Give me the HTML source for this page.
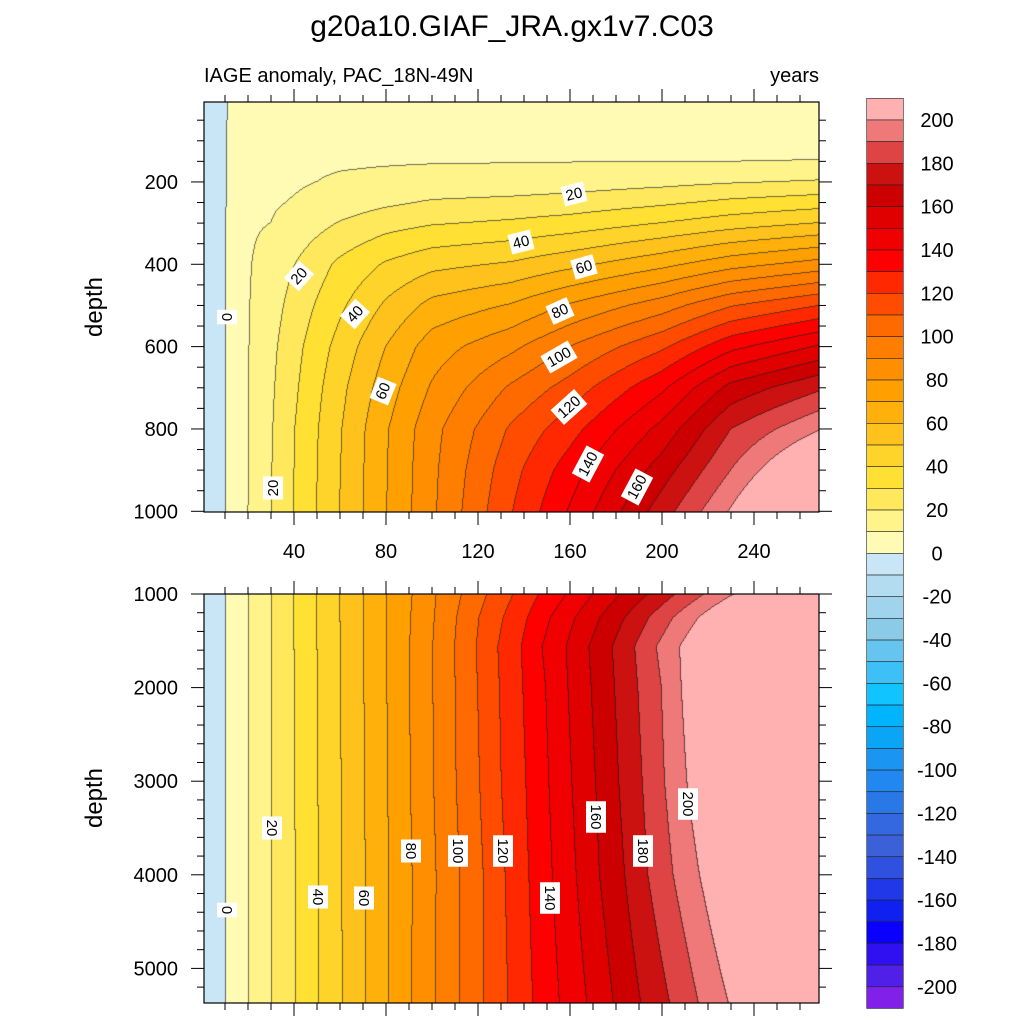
<!DOCTYPE html>
<html><head><meta charset="utf-8">
<style>
html,body{margin:0;padding:0;background:#fff;}
#wrap{position:relative;width:1024px;height:1024px;overflow:hidden;font-family:"Liberation Sans",sans-serif;}
canvas{position:absolute;}
svg{position:absolute;left:0;top:0;}
</style></head>
<body>
<div id="wrap">
<canvas id="cTop" width="615" height="410" style="left:204px;top:102px"></canvas>
<canvas id="cBot" width="615" height="409" style="left:204px;top:594px"></canvas>
<svg id="svg" width="1024" height="1024" xmlns="http://www.w3.org/2000/svg">
<text x="512" y="36" text-anchor="middle" font-size="30" font-family="Liberation Sans, sans-serif">g20a10.GIAF_JRA.gx1v7.C03</text>
<text x="204" y="82" font-size="20" font-family="Liberation Sans, sans-serif">IAGE anomaly, PAC_18N-49N</text>
<text x="819" y="82" text-anchor="end" font-size="20" font-family="Liberation Sans, sans-serif">years</text>
<text transform="translate(102,307) rotate(-90)" text-anchor="middle" font-size="24" font-family="Liberation Sans, sans-serif">depth</text>
<text transform="translate(102,798) rotate(-90)" text-anchor="middle" font-size="24" font-family="Liberation Sans, sans-serif">depth</text>
<g id="gTicks"></g>
<g id="gLabels"></g>
<g id="gBar"></g>
</svg>
</div>
<script>
// ---------- data ----------
const bandColors=["#8020e8","#5020e8","#3010f0","#0a00ff","#1020f0","#2038e8","#3050e0","#3c60d8","#3468e0","#2878e8","#2088f0","#1a96f2","#0aa6f5","#00b4ff","#10c4ff","#3cc0f5","#66c4f0","#8ccbe8","#a0d4ec","#b4dcf0","#c8e6f5",
"#fffab4","#fff48a","#ffe85c","#ffe033","#ffd42a","#ffc21c","#ffb00a","#ffa000","#ff8f00","#ff7e00","#ff6a00","#ff4c00","#ff2800","#ff0000","#f00000","#e00000","#cc0000","#cc1111","#de4444","#ef7878","#ffb0b0"];
const barLabels=[200,180,160,140,120,100,80,60,40,20,0,-20,-40,-60,-80,-100,-120,-140,-160,-180,-200];
const xMajor=[40,80,120,160,200,240];
const topYMajor=[200,400,600,800,1000];
const botYMajor=[1000,2000,3000,4000,5000];
// upper panel: age anomaly grid (rows = time columns, values at topDepths)
const topTimes=[0,10,20,30,40,60,80,100,134,160,200,230,268];
const topDepths=[6,100,150,200,250,300,400,500,600,700,800,900,1000];
const topAge=[
[-5,-5,-5,-5,-5,-5,-5,-5,-5,-5,-5,-5,-5],
[-0.6,-0.6,-0.6,-0.6,-0.6,-0.6,-0.6,-0.6,-0.6,-0.6,-0.6,-0.6,-0.6],
[4,6,7.5,8,8.5,9,9.2,9.4,9.5,9.6,9.7,9.7,9.8],
[4,6.5,8,8.5,9,10,13.6,15.5,17.3,18.3,19,19.4,19.7],
[4.5,7,8.5,9,10.5,13.5,19.7,23.5,26.4,28,29.5,29.8,30],
[5,7.5,9,11,14.5,20.5,32,38,43.5,47,49,49.6,50],
[5,7.5,9.3,12,18,26,41,51.5,60,65,68.8,69.3,69.5],
[5,7.5,9.5,13,21,29,47,63,75,81,86.5,87.5,88],
[5,7.5,9.6,13.9,22.4,31.4,51,70.6,87.3,101.2,111,116,119],
[5,7.5,9.7,15,24,34,57,81,100,114,126,135,141],
[5,7.5,9.8,17,28,40,67,95,118,138,153,165,175],
[5,7.5,9.9,19,32,45,76,109,137,163,180,190,201],
[5,7.5,10.2,20.8,35.3,50,83.6,119.6,150.7,178,199,220,238]];
// lower panel: time (years) at which each level 0..200 is reached, per depth
const botDepths=[1000,1250,1563,2000,3000,4000,5370];
const cross1000=[10.6,20.3,30.3,40,50,60,70.4,80.6,91.6,102,113,124,135.5,146.6,158.5,170,182,194,206,218.5,231.5];
const cross1250=[10.6,20.3,30.3,40.1,50.1,60.2,70.5,80.5,90.9,101.2,110.9,120.6,131.1,141.7,151.7,162.5,173.2,184,194.5,205,216];
const cross1563=[10.6,20.3,30.3,40.2,50.2,60.3,70.5,80.5,90.5,100.5,110,119.4,128.8,139,148,158.5,168.4,178.6,188.3,197.7,207.8];
const cross2000=[10.6,20.3,30.4,40.4,50.4,60.5,70.6,80.6,90.5,100.6,110.3,120,129.5,139.7,149.6,159.3,169.4,179.6,189.7,199.9,208.6];
const cross3000=[10.6,20.4,30.5,40.6,50.6,60.7,70.9,80.9,90.8,100.9,110.7,120.9,130.3,141,151,161,171.3,181.4,191.6,201.3,211];
const cross4000=[10.6,20.4,30.5,40.7,50.8,61,71.2,81.4,91.6,102,112.2,122.5,132,142.3,152.5,162.9,173,184,194,205,216.5];
const cross5370=[10.6,20.3,30.5,40.7,50.8,61.2,71.3,81.4,91.4,101.7,112.2,122.6,133.2,144,155.6,167.5,179,191,203.5,216,229];
const botCross=[cross1000,cross1250,cross1563,cross2000,cross3000,cross4000,cross5370];
const crossLevels=[0,10,20,30,40,50,60,70,80,90,100,110,120,130,140,150,160,170,180,190,200];

// ---------- scales ----------
const xOf=t=>202+2.3*t;
const tOf=x=>(x-202)/2.3;
const yTop=d=>99.6+0.4117*d;
const dTop=y=>(y-99.6)/0.4117;
const yBot=d=>594+(d-1000)*0.0936;
const dBot=y=>1000+(y-594)/0.0936;

function seg(arr,v){let i=0;while(i<arr.length-2&&v>arr[i+1])i++;return i;}
function topValue(t,d){
  if(d<topDepths[0])d=topDepths[0]; if(d>topDepths[topDepths.length-1])d=topDepths[topDepths.length-1];
  if(t<0)t=0; if(t>topTimes[topTimes.length-1])t=topTimes[topTimes.length-1];
  const i=seg(topTimes,t),j=seg(topDepths,d);
  const ft=(t-topTimes[i])/(topTimes[i+1]-topTimes[i]);
  const fd=(d-topDepths[j])/(topDepths[j+1]-topDepths[j]);
  const a=topAge[i][j],b=topAge[i][j+1],c=topAge[i+1][j],e=topAge[i+1][j+1];
  return (a*(1-fd)+b*fd)*(1-ft)+(c*(1-fd)+e*fd)*ft;
}
function rowValue(cr,t){
  const n=cr.length;
  if(t<=cr[0])return -5+5*t/cr[0];
  if(t>=cr[n-1])return crossLevels[n-1]+(t-cr[n-1])*10/(cr[n-1]-cr[n-2]);
  let k=0;while(t>cr[k+1])k++;
  return crossLevels[k]+10*(t-cr[k])/(cr[k+1]-cr[k]);
}
function botValue(t,d){
  if(d<botDepths[0])d=botDepths[0]; if(d>botDepths[botDepths.length-1])d=botDepths[botDepths.length-1];
  const j=seg(botDepths,d);
  const f=(d-botDepths[j])/(botDepths[j+1]-botDepths[j]);
  return rowValue(botCross[j],t)*(1-f)+rowValue(botCross[j+1],t)*f;
}
function bandOf(v){let b=Math.floor(v/10)+21;return b<0?0:(b>41?41:b);}
function hex(c){return [parseInt(c.substr(1,2),16),parseInt(c.substr(3,2),16),parseInt(c.substr(5,2),16)];}
const rgb=bandColors.map(hex);

function renderField(id,x0,y0,fn,dOf){
  const cv=document.getElementById(id),ctx=cv.getContext('2d');
  const w=cv.width,h=cv.height,img=ctx.createImageData(w,h),bands=new Int8Array(w*h);
  for(let py=0;py<h;py++){const d=dOf(y0+py+0.5);
    for(let px=0;px<w;px++){bands[py*w+px]=bandOf(fn(tOf(x0+px+0.5),d));}}
  for(let py=0;py<h;py++)for(let px=0;px<w;px++){
    const i=py*w+px,b=bands[i];let c=rgb[b];let line=false;
    if(px<w-1&&bands[i+1]!==b)line=true;
    if(py<h-1&&bands[i+w]!==b)line=true;
    let r=c[0],g=c[1],bl=c[2];
    if(line){r=r*0.35+20;g=g*0.35+20;bl=bl*0.35+20;}
    img.data[i*4]=r;img.data[i*4+1]=g;img.data[i*4+2]=bl;img.data[i*4+3]=255;}
  ctx.putImageData(img,0,0);
}
renderField('cTop',204,102,topValue,dTop);
renderField('cBot',204,594,botValue,dBot);

// ---------- axes ----------
const NS="http://www.w3.org/2000/svg";
function mk(tag,attrs,parent){const e=document.createElementNS(NS,tag);for(const k in attrs)e.setAttribute(k,attrs[k]);parent.appendChild(e);return e;}
const gT=document.getElementById('gTicks');
function frame(y1,y2,name){const r=mk('rect',{x:204,y:y1,width:615,height:y2-y1,fill:'none',stroke:'#000','stroke-width':1.2},gT);
  
  }
frame(102,512,'upper-plot-frame');frame(594,1003,'lower-plot-frame');
function tick(x1,y1,x2,y2,name){const l=mk('line',{x1:x1,y1:y1,x2:x2,y2:y2,stroke:'#000','stroke-width':1},gT);
  
  }
for(let t=10;t<=260;t+=10){const x=xOf(t);const L=xMajor.includes(t)?13:7;
  [[102,-1],[512,1],[594,-1],[1003,1]].forEach(p=>tick(x,p[0],x,p[0]+p[1]*L,'x-tick'));}
for(let d=50;d<=1000;d+=50){const y=yTop(d);if(y<103)continue;const L=topYMajor.includes(d)?13:7;
  tick(204,y,204-L,y,'y-tick');tick(819,y,819+L,y,'y-tick');}
for(let d=1000;d<=5200;d+=200){const y=yBot(d);const L=botYMajor.includes(d)?13:7;
  tick(204,y,204-L,y,'y-tick');tick(819,y,819+L,y,'y-tick');}
function txt(s,x,y,anchor,size,name,parent){const e=mk('text',{x:x,y:y,'text-anchor':anchor,'font-size':size,'font-family':'Liberation Sans, sans-serif'},parent);e.textContent=s;
  
  return e;}
xMajor.forEach(t=>txt(String(t),xOf(t),558,'middle',20,'x-tick-label',gT));
topYMajor.forEach(d=>txt(String(d),178,yTop(d)+7,'end',20,'y-tick-label',gT));
botYMajor.forEach(d=>txt(String(d),178,yBot(d)+7,'end',20,'y-tick-label',gT));

// ---------- contour labels ----------
const topLabels=[["0",227,317,90],["20",273,488,-90],["20",299,276,-48],["40",355,314,-48],["60",383,391,-68],["20",574,194,-14],["40",521,242,-14],["60",584,267,-16],["80",560,311,-24],["100",559,357,-30],["120",569,407,-42],["140",588,464,-62],["160",637,487,-62]];
const botLabels=[["0",227,910],["20",272,828],["40",318,897],["60",364,898],["80",411,851],["100",458,851],["120",503,851],["140",550,898],["160",596,817],["180",643,851],["200",688,804]];
const gL=document.getElementById('gLabels');
function clabel(s,x,y,rot){const g=mk('g',{transform:`translate(${x},${y}) rotate(${rot})`},gL);
  
  
  const w=s.length*8.5+6;mk('rect',{x:-w/2,y:-10,width:w,height:20,fill:'#fff'},g);
  const t=mk('text',{x:0,y:5,'text-anchor':'middle','font-size':15,'font-family':'Liberation Sans, sans-serif'},g);t.textContent=s;}
topLabels.forEach(l=>clabel(l[0],l[1],l[2],l[3]));
botLabels.forEach(l=>clabel(l[0],l[1],l[2],90));

// ---------- colorbar ----------
const gB=document.getElementById('gBar');const bh=21.67,bt=98.3;
for(let i=0;i<42;i++){const r=mk('rect',{x:866.7,y:bt+i*bh,width:36.6,height:bh,fill:bandColors[41-i],stroke:'#222','stroke-width':0.6},gB);
  
  }
barLabels.forEach((v,k)=>txt(String(v),937,bt+(k+1)*2*bh-bh+7,'middle',20,'colorbar-label',gB));
</script>
</body></html>
